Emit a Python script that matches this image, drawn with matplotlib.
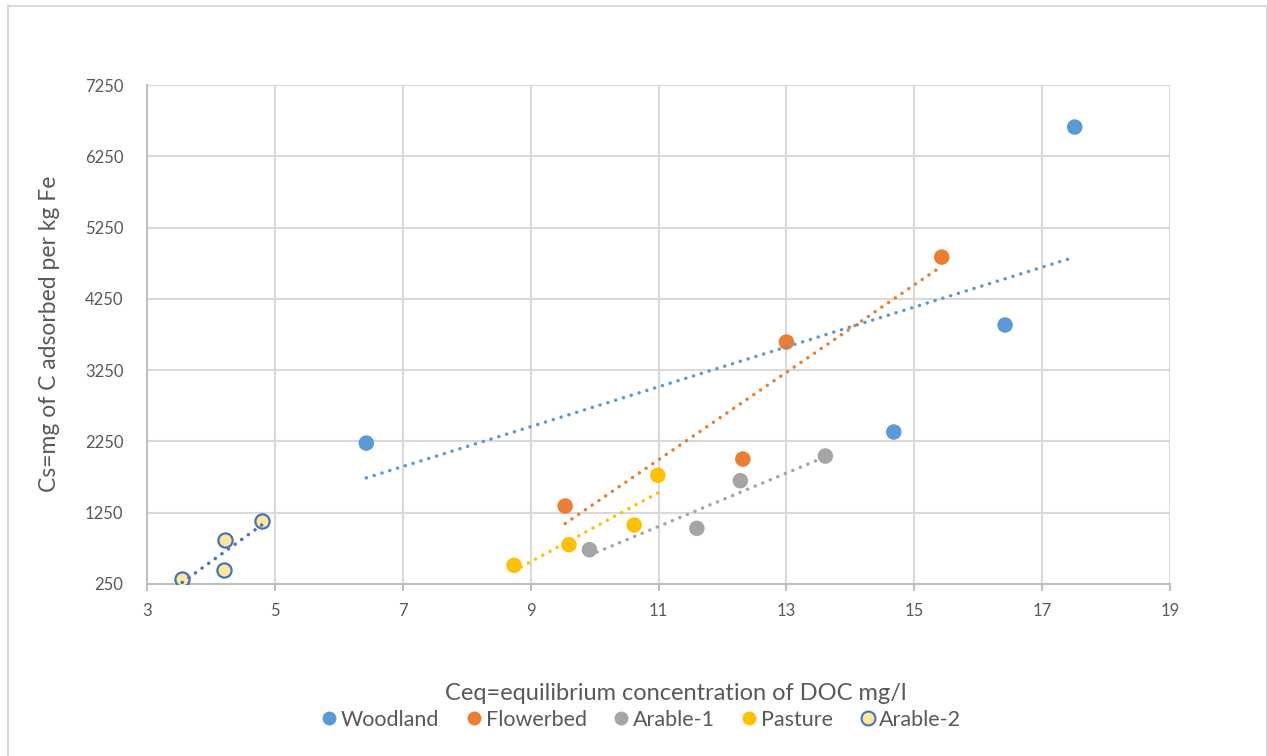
import numpy as np
import matplotlib
matplotlib.use("Agg")
import matplotlib.pyplot as plt
from matplotlib.lines import Line2D

plt.rcParams['font.family'] = ['Lato', 'DejaVu Sans']

# Ceq (mg/l) and Cs (mg C per kg Fe) for each land use
woodland_x = [6.43, 14.68, 16.42, 17.51]
woodland_y = [2227, 2382, 3883, 6660]
flowerbed_x = [9.54, 12.32, 13.00, 15.43]
flowerbed_y = [1344, 2003, 3644, 4836]
arable1_x = [9.92, 11.60, 12.28, 13.61]
arable1_y = [731, 1031, 1699, 2045]
pasture_x = [8.74, 9.60, 10.62, 10.99]
pasture_y = [512, 801, 1077, 1775]
arable2_x = [3.55, 4.22, 4.21, 4.80]
arable2_y = [316, 867, 446, 1129]

x_ticks = [3, 5, 7, 9, 11, 13, 15, 17, 19]
y_ticks = [250, 1250, 2250, 3250, 4250, 5250, 6250, 7250]

TEXT = '#595959'
GRID = '#D9D9D9'
AXIS = '#BFBFBF'

series = [
    ('Woodland', woodland_x, woodland_y, '#5B9BD5', '#5B9BD5', '#5B9BD5'),
    ('Flowerbed', flowerbed_x, flowerbed_y, '#ED7D31', '#ED7D31', '#ED7D31'),
    ('Arable-1', arable1_x, arable1_y, '#A5A5A5', '#A5A5A5', '#A5A5A5'),
    ('Pasture', pasture_x, pasture_y, '#FFC000', '#FFC000', '#FFC000'),
    ('Arable-2', arable2_x, arable2_y, '#FFE699', '#4472C4', '#4472C4'),
]

fig = plt.figure(figsize=(12.67, 7.56), dpi=100)
ax = fig.add_axes([147 / 1267, 172 / 756, (1170 - 147) / 1267, (671 - 172) / 756])

for name, xs, ys, face, edge, trend in series:
    xs = np.asarray(xs)
    ys = np.asarray(ys)
    if face == edge:
        ax.scatter(xs, ys, s=125, color=face, edgecolors='none', zorder=3)
    else:
        ax.scatter(xs, ys, s=105, facecolor=face, edgecolors=edge, linewidths=1.6, zorder=3)
    # linear trendline spanning the observed Ceq range
    slope, intercept = np.polyfit(xs, ys, 1)
    xr = np.array([xs.min(), xs.max()])
    ax.plot(xr, slope * xr + intercept, color=trend, lw=2.5,
            linestyle=(0, (0.05, 2.3)), dash_capstyle='round', zorder=4)

ax.set_xlim(3, 19)
ax.set_ylim(250, 7250)
ax.set_xticks(x_ticks)
ax.set_yticks(y_ticks)
ax.grid(True, color=GRID, lw=1.5)
ax.set_axisbelow(True)
for side in ['top', 'right']:
    ax.spines[side].set_visible(False)
for side in ['left', 'bottom']:
    ax.spines[side].set_color(AXIS)
    ax.spines[side].set_linewidth(1.5)
ax.tick_params(axis='x', length=5, width=1.5, color=AXIS, colors=TEXT, labelsize=12, pad=9)
ax.tick_params(axis='y', length=0, colors=TEXT, labelsize=12, pad=17)

fig.text(50 / 1267, 1 - 334 / 756, 'Cs=mg of C adsorbed per kg Fe', rotation=90,
         ha='center', va='center', color=TEXT, fontsize=16.5)
fig.text(676 / 1267, 1 - 693 / 756, 'Ceq=equilibrium concentration of DOC mg/l',
         ha='center', va='center', color=TEXT, fontsize=17)

handles = [Line2D([], [], linestyle='none', marker='o', markersize=10,
                  markerfacecolor=face, markeredgecolor=edge,
                  markeredgewidth=1.5 if face != edge else 0)
           for _, _, _, face, edge, _ in series]
fig.legend(handles, [s[0] for s in series], loc='center',
           bbox_to_anchor=(642 / 1267, 1 - 720 / 756), ncol=5, frameon=False,
           fontsize=15.5, labelcolor=TEXT, handlelength=0.6, handletextpad=0.25,
           columnspacing=1.3, borderaxespad=0)

# chart frame
for xs_, ys_ in [([7.5, 7.5], [-0.1, 750.5]), ([7.5, 1266.5], [750.5, 750.5]),
                 ([1266.5, 1266.5], [750.5, -0.1])]:
    fig.add_artist(Line2D(np.array(xs_) / 1267, np.array(ys_) / 756,
                          color=GRID, lw=1.5, transform=fig.transFigure))

fig.savefig('out.png', dpi=100, facecolor='white')
